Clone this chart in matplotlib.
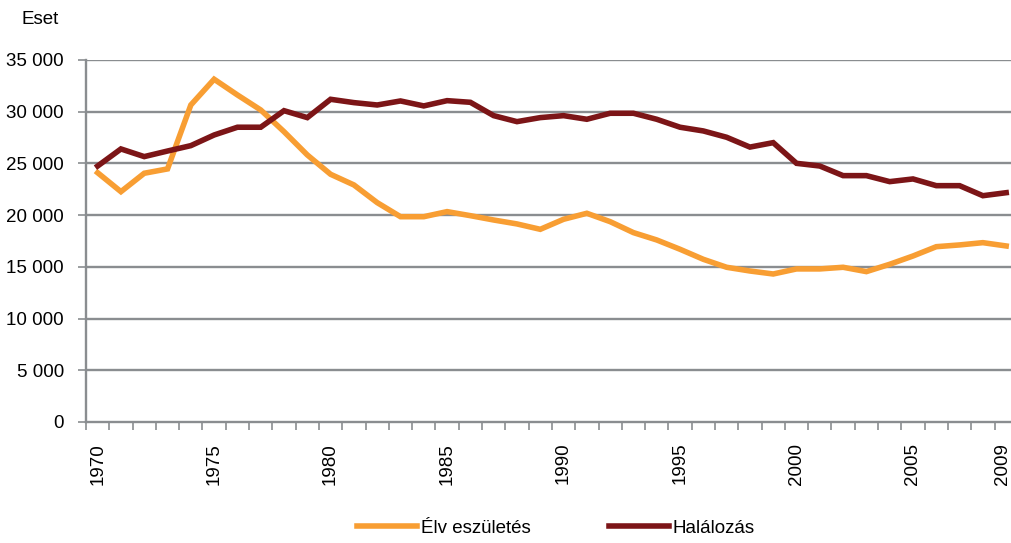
import numpy as np
import matplotlib
matplotlib.use("Agg")
import matplotlib.pyplot as plt
import matplotlib.transforms as mtransforms
from matplotlib.ticker import FuncFormatter

# adatok
years = list(range(1970, 2010))
elveszuletes = [24100, 22270, 24050, 24470, 30650, 33140, 31620, 30170, 28070, 25820,
                23950, 22920, 21210, 19850, 19850, 20340, 19950, 19530, 19150, 18630,
                19600, 20180, 19370, 18310, 17600, 16700, 15730, 14960, 14600, 14310,
                14800, 14800, 14960, 14540, 15250, 16050, 16950, 17120, 17340, 17020]
halalozas = [24750, 26400, 25660, 26200, 26720, 27750, 28500, 28500, 30100, 29430,
             31200, 30880, 30650, 31040, 30560, 31070, 30910, 29620, 29040, 29430,
             29620, 29270, 29850, 29850, 29270, 28500, 28140, 27530, 26580, 27010,
             25010, 24750, 23820, 23820, 23240, 23500, 22850, 22850, 21880, 22170]
label_years = [1970, 1975, 1980, 1985, 1990, 1995, 2000, 2005, 2009]
series_names = ["Élv eszületés", "Halálozás"]
colors = ["#F89E33", "#7C1517"]

plt.rcParams['font.family'] = ['Liberation Sans', 'DejaVu Sans']
grey = "#8A8D90"

W, H = 1012, 543
fig = plt.figure(figsize=(W / 100, H / 100), dpi=100)
ax = fig.add_axes([86 / W, 1 - 422 / H, 1 - 86 / W, (422 - 60) / H])

ax.set_ylim(0, 35000)
# a jobb szél le van vágva
ax.set_xlim(1969.5, 2009.25)

for y in range(5000, 35001, 5000):
    ax.axhline(y, color=grey, lw=1.7, zorder=1)

ax.plot(years, elveszuletes, color=colors[0], lw=4, label=series_names[0],
        solid_joinstyle='miter', zorder=3)
ax.plot(years, halalozas, color=colors[1], lw=4, label=series_names[1],
        solid_joinstyle='miter', zorder=3)

for s in ['top', 'right']:
    ax.spines[s].set_visible(False)
for s in ['left', 'bottom']:
    ax.spines[s].set_color(grey)
    ax.spines[s].set_linewidth(1.7)

ax.set_yticks(range(0, 35001, 5000))
ax.yaxis.set_major_formatter(FuncFormatter(lambda v, p: f"{int(v):,}".replace(",", " ")))
ax.tick_params(axis='y', length=6, width=1.2, color=grey, pad=10, labelsize=13.5)

ax.set_xticks(label_years)
ax.set_xticklabels([str(y) for y in label_years], rotation=90)
ax.set_xticks(np.arange(1969.5, 2009.3, 1), minor=True)
ax.tick_params(axis='x', which='major', length=0, pad=15, labelsize=13.5)
ax.tick_params(axis='x', which='minor', length=5.5, width=1.2, color=grey)

# az utolsó felirat kicsit balra, hogy ne lógjon ki
last = ax.get_xticklabels()[-1]
last.set_transform(last.get_transform() +
                   mtransforms.ScaledTranslation(-4 / 100, 0, fig.dpi_scale_trans))

fig.text(22 / W, 1 - 20 / H, "Eset", fontsize=13.5, va='center', ha='left')

fig.legend(loc='center', bbox_to_anchor=(556 / W, 1 - 528 / H), ncol=2,
           frameon=False, fontsize=13.5, handlelength=3.2, handletextpad=0.2,
           columnspacing=4.2)

fig.savefig("out.png", dpi=100)
